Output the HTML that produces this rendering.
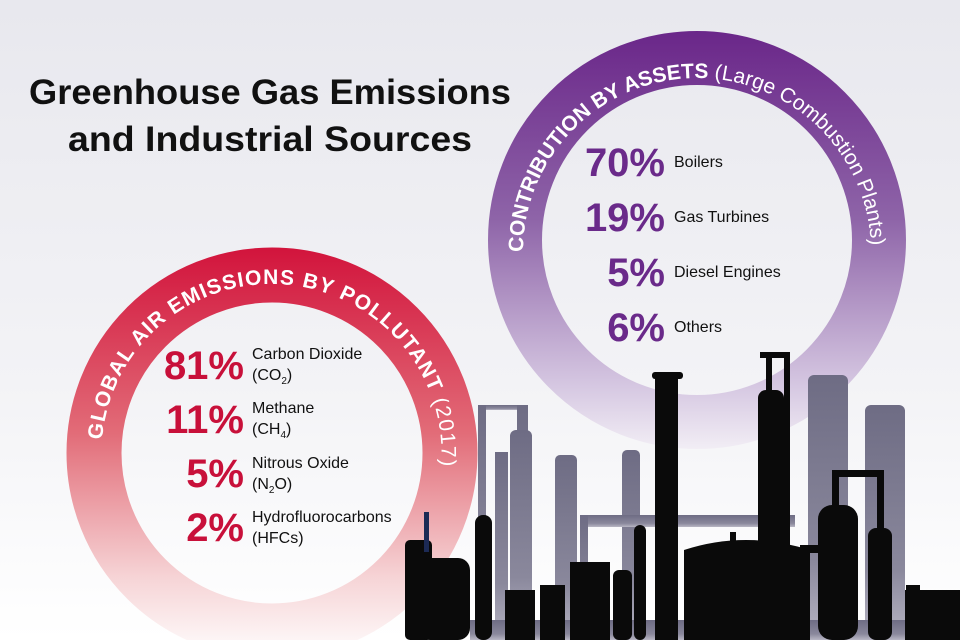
<!DOCTYPE html>
<html><head><meta charset="utf-8"><style>
html,body{margin:0;padding:0;width:960px;height:640px;overflow:hidden}
svg{display:block}
text{font-family:"Liberation Sans",sans-serif}
</style></head><body>
<svg width="960" height="640" viewBox="0 0 960 640" xmlns="http://www.w3.org/2000/svg">
<defs>
<linearGradient id="bg" x1="0" y1="0" x2="0" y2="1">
<stop offset="0" stop-color="#e8e8ee"/><stop offset="0.6" stop-color="#f3f3f6"/><stop offset="1" stop-color="#ffffff"/></linearGradient>
<linearGradient id="rg" gradientUnits="userSpaceOnUse" x1="0" y1="248" x2="0" y2="660">
<stop offset="0" stop-color="#d2143c"/><stop offset="0.45" stop-color="#e26c78"/><stop offset="0.8" stop-color="#f6d4d6"/><stop offset="1" stop-color="#ffffff"/></linearGradient>
<linearGradient id="pg" gradientUnits="userSpaceOnUse" x1="0" y1="30" x2="0" y2="450">
<stop offset="0" stop-color="#6a2689"/><stop offset="0.45" stop-color="#8e64a8"/><stop offset="0.85" stop-color="#d6c8e2"/><stop offset="1" stop-color="#f2eef5"/></linearGradient>
<linearGradient id="gg" x1="0" y1="0" x2="0" y2="1">
<stop offset="0" stop-color="#6e6c84"/><stop offset="0.7" stop-color="#8a889c"/><stop offset="1" stop-color="#b8b6c4"/></linearGradient>
<path id="rp" d="M 102 440 A 170 170 0 0 1 441 468"/>
<path id="pp" d="M 523 252 A 174 174 0 1 1 871 252"/>
</defs>
<rect width="960" height="640" fill="url(#bg)"/>

<!-- purple ring -->
<circle cx="697" cy="240" r="182" fill="none" stroke="url(#pg)" stroke-width="54"/>
<text font-size="21" fill="#fff"><textPath href="#pp" startOffset="0" textLength="540" lengthAdjust="spacingAndGlyphs"><tspan font-weight="bold">CONTRIBUTION BY ASSETS</tspan> (Large Combustion Plants)</textPath></text>

<!-- red ring -->
<circle cx="272" cy="453" r="178" fill="none" stroke="url(#rg)" stroke-width="55"/>
<text font-size="21" fill="#fff" letter-spacing="1.2"><textPath href="#rp" startOffset="0"><tspan font-weight="bold">GLOBAL AIR EMISSIONS BY POLLUTANT</tspan> (2017)</textPath></text>

<!-- title -->
<text x="270" y="104" font-size="35" font-weight="bold" fill="#111" text-anchor="middle" textLength="482" lengthAdjust="spacingAndGlyphs">Greenhouse Gas Emissions</text>
<text x="270" y="151" font-size="35" font-weight="bold" fill="#111" text-anchor="middle" textLength="404" lengthAdjust="spacingAndGlyphs">and Industrial Sources</text>

<!-- red list -->
<g font-weight="bold" font-size="40" fill="#c8103a" text-anchor="end">
<text x="244" y="379">81%</text><text x="244" y="433">11%</text><text x="244" y="487">5%</text><text x="244" y="541">2%</text></g>
<g font-size="16" fill="#111">
<text x="252" y="359">Carbon Dioxide</text><text x="252" y="380">(CO<tspan font-size="10" dy="4">2</tspan><tspan dy="-4">)</tspan></text>
<text x="252" y="413">Methane</text><text x="252" y="434">(CH<tspan font-size="10" dy="4">4</tspan><tspan dy="-4">)</tspan></text>
<text x="252" y="468">Nitrous Oxide</text><text x="252" y="489">(N<tspan font-size="10" dy="4">2</tspan><tspan dy="-4">O)</tspan></text>
<text x="252" y="522">Hydrofluorocarbons</text><text x="252" y="543">(HFCs)</text></g>

<!-- purple list -->
<g font-weight="bold" font-size="40" fill="#6a2a8a" text-anchor="end">
<text x="665" y="176">70%</text><text x="665" y="231">19%</text><text x="665" y="286">5%</text><text x="665" y="341">6%</text></g>
<g font-size="16" fill="#111">
<text x="674" y="167">Boilers</text><text x="674" y="222">Gas Turbines</text><text x="674" y="277">Diesel Engines</text><text x="674" y="332">Others</text></g>

<!-- gray refinery -->
<g fill="url(#gg)">
<rect x="478" y="405" width="50" height="5"/><rect x="478" y="405" width="8" height="235"/><rect x="517" y="405" width="11" height="235"/>
<rect x="510" y="430" width="22" height="210" rx="6"/>
<rect x="495" y="452" width="13" height="188"/>
<rect x="555" y="455" width="22" height="185" rx="5"/>
<rect x="622" y="450" width="18" height="190" rx="5"/>
<rect x="580" y="515" width="215" height="12"/><rect x="580" y="515" width="8" height="125"/>
<rect x="808" y="375" width="40" height="265" rx="6"/>
<rect x="865" y="405" width="40" height="235" rx="6"/>
<rect x="470" y="620" width="490" height="20"/>
</g>
<!-- black refinery -->
<g fill="#0a0a0a">
<rect x="652" y="372" width="31" height="7" rx="3"/><rect x="655" y="372" width="23" height="268"/>
<rect x="760" y="352" width="30" height="6"/><rect x="766" y="352" width="6" height="288"/><rect x="784" y="352" width="6" height="288"/>
<rect x="758" y="390" width="26" height="250" rx="8"/>
<path d="M684 640 V550 Q745 530 810 550 V640 Z"/><rect x="730" y="532" width="6" height="14"/>
<rect x="818" y="505" width="40" height="135" rx="14"/>
<rect x="832" y="470" width="52" height="7"/><rect x="832" y="470" width="7" height="50"/><rect x="877" y="470" width="7" height="140"/>
<rect x="868" y="528" width="24" height="112" rx="8"/>
<rect x="905" y="590" width="55" height="50"/><rect x="906" y="585" width="14" height="10"/>
<rect x="800" y="545" width="35" height="8"/>
<rect x="405" y="540" width="27" height="100" rx="5"/>
<rect x="418" y="558" width="52" height="82" rx="12"/>
<rect x="475" y="515" width="17" height="125" rx="8"/>
<rect x="505" y="590" width="30" height="50"/>
<rect x="570" y="562" width="40" height="78"/>
<rect x="613" y="570" width="19" height="70" rx="6"/>
<rect x="634" y="525" width="12" height="115" rx="6"/>
<rect x="540" y="585" width="25" height="55"/>
</g>
<rect x="424" y="512" width="5" height="40" fill="#1c2a55"/>
</svg>
</body></html>
